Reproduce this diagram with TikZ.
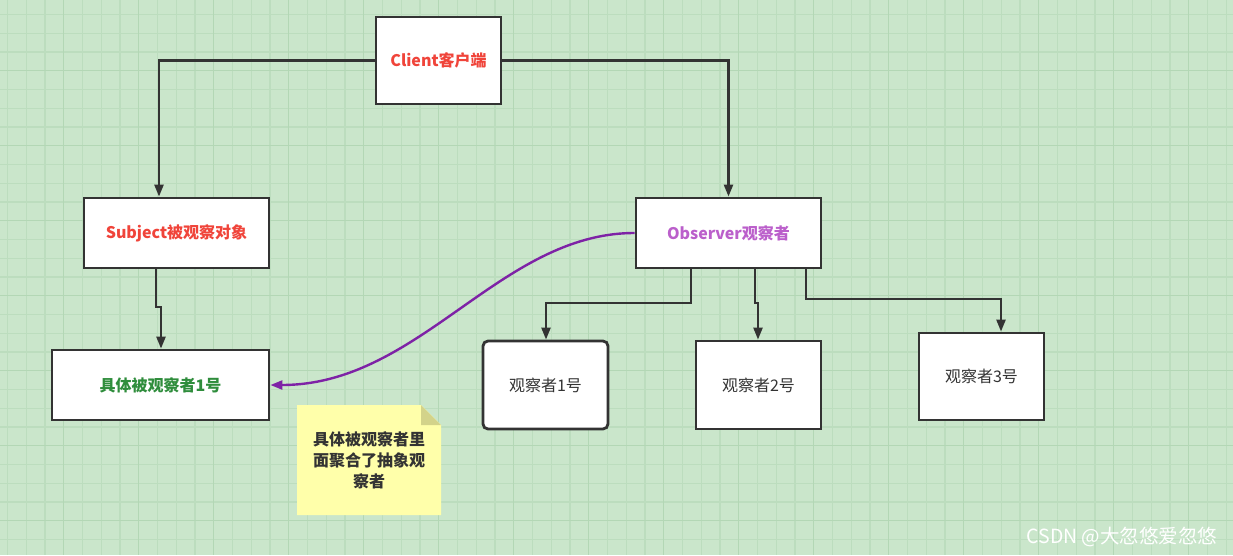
\documentclass[tikz,border=0pt]{standalone}
\usepackage{fontspec}
\setmainfont{Noto Sans CJK SC}
\usepackage{xcolor}
\usetikzlibrary{positioning,arrows.meta,shapes}

\definecolor{paper}{HTML}{CAE6CB}
\definecolor{gridthin}{HTML}{BCDDBE}
\definecolor{gridthick}{HTML}{B3D7B5}
\definecolor{ink}{HTML}{333333}
\definecolor{redtext}{HTML}{F0443A}
\definecolor{purpletext}{HTML}{BB5FCB}
\definecolor{greentext}{HTML}{2F8D3C}
\definecolor{purpleline}{HTML}{7E22A6}
\definecolor{notefill}{HTML}{FFFFAA}
\definecolor{notefold}{HTML}{D3D38A}

\begin{document}
\begin{tikzpicture}
[x=1pt, y=-1pt, font=\fontsize{16}{19}\selectfont,
    box/.style={rectangle, draw=ink, fill=white, line width=2.8pt,
    inner sep=0pt, align=center},
    roundbox/.style={box, rounded corners=5pt},
    link/.style={draw=ink, line width=2.4pt,
    -{Triangle[length=12pt,width=9pt]}},
    ]

    % background and grid
    \useasboundingbox (0,0) rectangle (1233,555);
    \fill[paper] (0,0) rectangle (1233,555);
    \begin{scope}
    \clip (0,0) rectangle (1233,555);
    \foreach \i in {0,...,65}
        \draw[gridthin, line width=1.2pt] ({7.5+18.75*\i},0) -- ++(0,555);
    \foreach \i in {0,...,29}
        \draw[gridthin, line width=1.2pt] (0,{14.5+18.75*\i}) -- ++(1233,0);
    \foreach \i in {0,...,16}
        \draw[gridthick, line width=1.4pt] ({63.75+75*\i},0) -- ++(0,555);
    \foreach \i in {0,...,7}
        \draw[gridthick, line width=1.4pt] (0,{70.75+75*\i}) -- ++(1233,0);
    \end{scope}

    % boxes
    \node[box, minimum width=125pt, minimum height=87pt] (client) at (438.5,60.5)
        {\textbf{\color{redtext}Client客户端}};
    \node[box, minimum width=185pt, minimum height=70pt] (subject) at (176.5,233)
        {\textbf{\color{redtext}Subject被观察对象}};
    \node[box, minimum width=185pt, minimum height=70pt] (observer) at (728.5,233)
        {\textbf{\color{purpletext}Observer观察者}};
    \node[box, minimum width=217pt, minimum height=70pt] (concrete) at (160.5,385)
        {\textbf{\color{greentext}具体被观察者1号}};
    \node[roundbox, minimum width=125pt, minimum height=88pt] (obs1) at (545.5,385)
        {\color{ink}观察者1号};
    \node[box, minimum width=125pt, minimum height=88pt] (obs2) at (758.5,385)
        {\color{ink}观察者2号};
    \node[box, minimum width=125pt, minimum height=87pt] (obs3) at (981.5,376.5)
        {\color{ink}观察者3号};

    % note
    \fill[notefill] (297,405) -- (421,405) -- (441,425) -- (441,515) -- (297,515) -- cycle;
    \fill[notefold] (421,405) -- (441,425) -- (421,425) -- cycle;
    \node[align=center, font=\fontsize{16}{21}\selectfont\bfseries, text=ink]
        (note) at (369,460) {具体被观察者里\\面聚合了抽象观\\察者};

    % connectors
    \draw[link] (client.west) -| (subject.north -| 159,0);
    \draw[link] (client.east) -| (observer.north);
    \draw[link] (subject.south -| 156,0) -- (156,307) -- (161,307) -- (concrete.north -| 161,0);
    \draw[link] (observer.south -| 691,0) |- (546,303) -- (obs1.north -| 546,0);
    \draw[link] (observer.south -| 755,0) |- (758,303) -- (obs2.north -| 758,0);
    \draw[link] (observer.south -| 806,0) |- (1001,299) -- (obs3.north -| 1001,0);
    \draw[draw=purpleline, line width=2.4pt, -{Triangle[length=12pt,width=9pt]}]
        (observer.west) .. controls (500,233) and (420,385) .. (concrete.east);

    % watermark
    \node[text=white, font=\fontsize{19.5}{22}\selectfont] (mark) at (1122,537)
        {CSDN @大忽悠爱忽悠};
\end{tikzpicture}
\end{document}
